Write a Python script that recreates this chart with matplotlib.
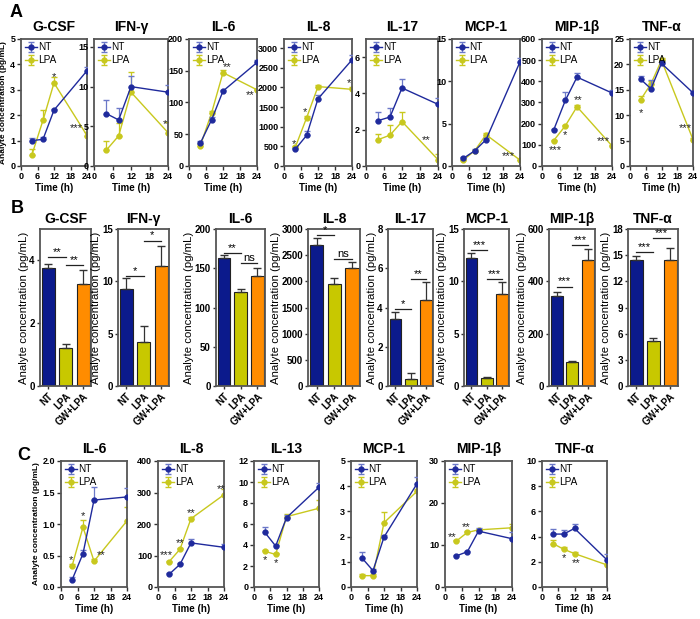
import matplotlib
matplotlib.use("Agg")
import matplotlib.pyplot as plt
import numpy as np

plt.rcParams['font.family'] = ['Liberation Sans', 'DejaVu Sans']
plt.rcParams['font.weight'] = 'bold'

# colours
c_nt = '#1f2a9c'
c_lpa = '#c8c81e'
bar_cols = ['#0b1a8c', '#c8c800', '#ff8c00']

time = [4, 8, 12, 24]

# ---------- panel A : time course ----------
A_names = ['G-CSF', 'IFN-γ', 'IL-6', 'IL-8', 'IL-17', 'MCP-1', 'MIP-1β', 'TNF-α']
A_ymax = [5, 16, 200, 3230, 7, 15, 600, 25]
A_ytick = [1, 5, 50, 500, 2, 5, 100, 5]
A_nt = [[1.0, 1.05, 2.2, 3.75], [6.6, 5.8, 10.0, 9.3], [36, 73, 118, 163],
        [430, 780, 1710, 2700], [2.5, 2.7, 4.3, 3.4], [0.9, 1.8, 3.1, 12.3],
        [170, 310, 420, 345], [17.1, 15.2, 20.2, 14.4]]
A_nt_err = [[0.12, 0.1, 0.05, 0.15], [1.7, 1.5, 1.3, 0.9], [3, 4, 2, 4],
            [40, 100, 100, 130], [0.45, 0.5, 0.5, 0.35], [0.15, 0.2, 0.2, 0.5],
            [5, 40, 20, 12], [0.7, 1.8, 0.5, 0.3]]
A_lpa = [[0.45, 1.8, 3.27, 1.2], [2.0, 3.8, 9.3, 4.2], [32, 84, 147, 120],
         [480, 1230, 2020, 1950], [1.45, 1.7, 2.45, 0.35], [0.7, 1.8, 3.7, 0.7],
         [120, 190, 280, 95], [13.0, 16.2, 20.8, 5.2]]
A_lpa_err = [[0.2, 0.4, 0.25, 0.15], [1.1, 1.6, 2.5, 1.4], [2, 3, 4, 2],
             [30, 50, 30, 60], [0.3, 0.55, 0.55, 0.3], [0.05, 0.1, 0.2, 0.05],
             [5, 5, 10, 5], [0.7, 0.6, 0.5, 0.3]]
A_stars = [[(12, 3.5, '*'), (20, 1.5, '***')],
           [(23, 5.3, '*')],
           [(13.5, 155, '**'), (21.5, 112, '**')],
           [(3.5, 560, '*'), (7.5, 1380, '*'), (23, 2100, '*')],
           [(20, 1.45, '**')],
           [(20, 1.2, '***')],
           [(4.5, 75, '***'), (8, 145, '*'), (12.5, 310, '**'), (21, 120, '***')],
           [(4, 10.5, '*'), (21, 7.5, '***')]]
A_pos = [(21, 87), (94, 168), (189, 257), (284, 352),
         (366, 438), (452, 520), (542, 612), (630, 693)]

# ---------- panel B : bars ----------
B_names = ['G-CSF', 'IFN-γ', 'IL-6', 'IL-8', 'IL-17', 'MCP-1', 'MIP-1β', 'TNF-α']
B_groups = ['NT', 'LPA', 'GW+LPA']
B_ymax = [5, 15, 200, 3000, 8, 15, 600, 18]
B_ytick = [2, 5, 50, 500, 2, 5, 200, 3]
B_vals = [[3.75, 1.2, 3.25], [9.3, 4.2, 11.5], [163, 120, 140], [2700, 1950, 2250],
          [3.4, 0.35, 4.4], [12.2, 0.75, 8.8], [345, 92, 480], [14.5, 5.2, 14.5]]
B_err = [[0.15, 0.15, 0.45], [1.0, 1.5, 1.9], [4, 3, 10], [130, 110, 120],
         [0.35, 0.3, 0.9], [0.5, 0.1, 1.1], [15, 5, 45], [0.4, 0.3, 1.3]]
B_sig = [[(0, 1, 4.1, '**'), (1, 2, 3.85, '**')],
         [(0, 1, 10.5, '*'), (1, 2, 13.9, '*')],
         [(0, 1, 169, '**'), (1, 2, 157, 'ns')],
         [(0, 1, 2880, '*'), (1, 2, 2430, 'ns')],
         [(0, 1, 3.9, '*'), (1, 2, 5.45, '**')],
         [(0, 1, 13.0, '***'), (1, 2, 10.2, '***')],
         [(0, 1, 380, '***'), (1, 2, 540, '***')],
         [(0, 1, 15.4, '***'), (1, 2, 17.0, '***')]]
B_pos = [(40, 91), (118, 169), (216, 265), (308, 360),
         (388, 433), (464, 509), (549, 595), (628, 678)]

# ---------- panel C : time course ----------
C_names = ['IL-6', 'IL-8', 'IL-13', 'MCP-1', 'MIP-1β', 'TNF-α']
C_ymax = [2.0, 400, 12, 5, 30, 10]
C_ytick = [0.5, 100, 2, 1, 10, 2]
C_nt = [[0.11, 0.53, 1.38, 1.43], [40, 72, 140, 126], [5.2, 3.9, 6.6, 9.5],
        [1.15, 0.65, 1.98, 4.1], [7.4, 8.4, 13.3, 11.5], [4.2, 4.2, 4.65, 2.15]]
C_nt_err = [[0.05, 0.05, 0.2, 0.14], [3, 3, 12, 12], [0.5, 0.1, 0.3, 0.4],
            [0.22, 0.05, 0.1, 0.25], [0.2, 0.2, 0.8, 1.5], [0.4, 0.3, 0.35, 0.45]]
C_lpa = [[0.33, 0.95, 0.41, 1.05], [80, 120, 217, 293], [3.4, 3.1, 6.7, 7.5],
         [0.45, 0.45, 2.55, 3.8], [10.9, 13.0, 13.6, 14.1], [3.45, 3.0, 2.65, 1.75]]
C_lpa_err = [[0.03, 0.12, 0.03, 0.22], [3, 3, 5, 18], [0.1, 0.1, 0.3, 0.8],
             [0.08, 0.08, 0.42, 0.1], [0.3, 0.4, 0.3, 1.0], [0.3, 0.15, 0.1, 0.1]]
C_stars = [[(3.5, 0.42, '*'), (8, 1.12, '*'), (14.5, 0.5, '**')],
           [(3, 100, '***'), (8, 140, '**'), (12, 235, '**'), (23, 312, '**')],
           [(4, 2.6, '*'), (8, 2.3, '*')],
           [],
           [(2.5, 12.0, '**'), (7.5, 14.2, '**')],
           [(8, 2.3, '*'), (12.5, 1.9, '**')]]
C_pos = [(61, 127), (158, 224), (254, 319), (351, 417), (445, 512), (542, 607)]

W, H = 700, 619
fig = plt.figure(figsize=(W / 100, H / 100), dpi=100)


def make_ax(l, r, t, b):
    return fig.add_axes([l / W, 1 - b / H, (r - l) / W, (b - t) / H])


def style(ax, size, length=3):
    for s in ax.spines.values():
        s.set_color('#555555')
        s.set_linewidth(1.3)
    ax.tick_params(axis='both', length=length, width=1, color='#333333',
                   labelsize=size, pad=1.2)


def fmt(v, step):
    if step < 1:
        return '%.1f' % v
    return '%d' % round(v)


def time_panel(ax, name, ymax, ystep, nt, nt_err, lpa, lpa_err, stars, ylabel):
    ax.errorbar(time, nt, yerr=[np.zeros(4), nt_err], color=c_nt, marker='o',
                ms=3.5, lw=1, capsize=2.5, elinewidth=0.9, ecolor='#6b78c8',
                label='NT', zorder=3)
    ax.errorbar(time, lpa, yerr=[np.zeros(4), lpa_err], color=c_lpa, marker='o',
                ms=3.5, lw=1, capsize=2.5, elinewidth=0.9, label='LPA', zorder=2)
    ax.set_xlim(0, 24)
    ax.set_xticks([0, 6, 12, 18, 24])
    ax.set_ylim(0, ymax)
    ticks = np.arange(0, ymax + 1e-9, ystep)
    ax.set_yticks(ticks)
    ax.set_yticklabels([fmt(v, ystep) for v in ticks])
    ax.set_xlabel('Time (h)', fontsize=7, fontweight='bold', labelpad=1.5)
    ax.set_title(name, fontsize=10, fontweight='bold', pad=6)
    for x, y, s in stars:
        ax.text(x, y, s, ha='center', va='center', fontsize=8,
                fontweight='normal', color='#222222')
    ax.legend(loc='upper left', frameon=False, prop={'size': 7.2, 'weight': 'normal'},
              handlelength=1.2, handletextpad=0.2, labelspacing=0.25,
              borderaxespad=0.15, borderpad=0.2)
    if ylabel:
        ax.set_ylabel('Analyte concentration (pg/mL)', fontsize=6,
                      fontweight='bold', labelpad=2)
    style(ax, 6.5)


for i in range(8):
    l, r = A_pos[i]
    ax = make_ax(l, r, 39, 166)
    time_panel(ax, A_names[i], A_ymax[i], A_ytick[i], A_nt[i], A_nt_err[i],
               A_lpa[i], A_lpa_err[i], A_stars[i], i == 0)

for i in range(8):
    l, r = B_pos[i]
    ax = make_ax(l, r, 229, 386)
    x = np.arange(3)
    ax.bar(x, B_vals[i], width=0.76, color=bar_cols, edgecolor='#222222', lw=0.8)
    ax.errorbar(x, B_vals[i], yerr=[np.zeros(3), B_err[i]], fmt='none',
                ecolor='#333333', elinewidth=0.9, capsize=3)
    for a, b, h, s in B_sig[i]:
        ax.plot([a, b], [h, h], color='#222222', lw=0.9)
        ax.text((a + b) / 2, h, s, ha='center', va='bottom', fontsize=8,
                fontweight='normal')
    ax.set_xlim(-0.48, 2.45)
    ax.set_ylim(0, B_ymax[i])
    ax.set_yticks(np.arange(0, B_ymax[i] + 1e-9, B_ytick[i]))
    ax.set_xticks(x)
    ax.set_xticklabels(B_groups, rotation=45, ha='right', rotation_mode='anchor')
    ax.set_title(B_names[i], fontsize=10, fontweight='bold', pad=4)
    ax.set_ylabel('Analyte concentration (pg/mL)', fontsize=8.2,
                  fontweight='normal', labelpad=0.5)
    style(ax, 7, length=2.5)

for i in range(6):
    l, r = C_pos[i]
    ax = make_ax(l, r, 461, 587)
    time_panel(ax, C_names[i], C_ymax[i], C_ytick[i], C_nt[i], C_nt_err[i],
               C_lpa[i], C_lpa_err[i], C_stars[i], i == 0)

fig.text(10 / W, 1 - 4 / H, 'A', fontsize=13, fontweight='bold', va='top')
fig.text(11 / W, 1 - 200 / H, 'B', fontsize=13, fontweight='bold', va='top')
fig.text(17 / W, 1 - 447 / H, 'C', fontsize=13, fontweight='bold', va='top')

fig.savefig('out.png', dpi=100)
